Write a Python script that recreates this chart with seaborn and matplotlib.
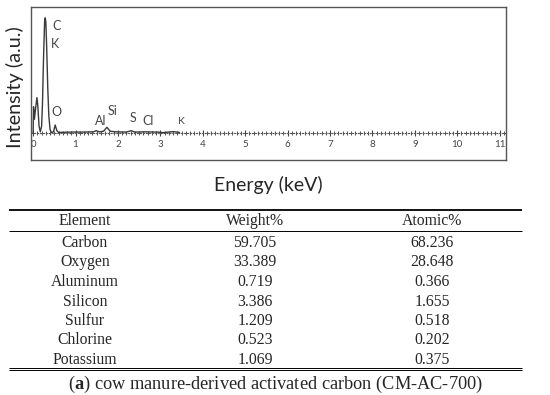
import matplotlib
matplotlib.use("Agg")
import matplotlib.pyplot as plt
import seaborn as sns
import numpy as np
import pandas as pd
from matplotlib.ticker import FixedLocator

# EDS spectrum trace
energy_kev = [0.00, 0.01, 0.03, 0.06, 0.09, 0.11, 0.14, 0.17, 0.20, 0.22, 0.245, 0.27, 0.285,
              0.30, 0.32, 0.345, 0.37, 0.40, 0.43, 0.48, 0.52, 0.56, 0.60, 0.90, 1.20, 1.42,
              1.49, 1.56, 1.66, 1.74, 1.82, 1.95, 2.20, 2.31, 2.40, 2.62, 2.95, 3.05,
              3.20, 3.31, 3.45]
intensity = [0, 23, 12, 22, 31, 24, 6, 1, 6, 25, 65, 97, 101,
             97, 75, 40, 15, 3, 0.5, 1, 7, 2, 0.5, 0.8, 0.8, 1,
             2, 1, 1.5, 5, 1.5, 1, 0.8, 2, 0.8, 1, 0.8, 0.3,
             0.8, 1.2, 0.5]

peak_labels = ["C", "K", "O", "Al", "Si", "S", "Cl", "K"]

# composition table
elements = ["Carbon", "Oxygen", "Aluminum", "Silicon", "Sulfur", "Chlorine", "Potassium"]
weight_pct = ["59.705", "33.389", "0.719", "3.386", "1.209", "0.523", "1.069"]
atomic_pct = ["68.236", "28.648", "0.366", "1.655", "0.518", "0.202", "0.375"]

sns.set_style("white")
plt.rcParams["font.family"] = ["Lato", "DejaVu Sans"]
plt.rcParams["mathtext.fontset"] = "custom"
plt.rcParams["mathtext.rm"] = "Liberation Serif"
plt.rcParams["mathtext.bf"] = "Liberation Serif:bold"

fig = plt.figure(figsize=(5.5, 3.95), dpi=100)
ax = fig.add_axes([31 / 550, 1 - 160 / 395, 475 / 550, 153 / 395])

df = pd.DataFrame({"Energy": energy_kev, "Intensity": intensity})
sns.lineplot(data=df, x="Energy", y="Intensity", ax=ax, color="#3a3a3a", lw=1.0, sort=False)

ymin, ymax = -23.7, 110.5
ax.set_xlim(-0.05, 11.15)
ax.set_ylim(ymin, ymax)
ax.set_xticks([])
ax.set_yticks([])
ax.set_xlabel("")
ax.set_ylabel("")
for s in ax.spines.values():
    s.set_color("#555555")
    s.set_linewidth(1.0)

fig.text(15 / 550, 1 - 87 / 395, "Intensity (a.u.)", fontsize=14.3, rotation=90,
         ha="center", va="center")

# energy axis sits at zero intensity, inside the box
sec = ax.secondary_xaxis((0 - ymin) / (ymax - ymin))
sec.xaxis.set_major_locator(FixedLocator(np.arange(0, 12)))
sec.xaxis.set_minor_locator(FixedLocator(np.round(np.arange(0, 11.11, 0.1), 1)))
sec.tick_params(which="major", direction="inout", length=4, width=0.8, labelsize=7,
                colors="#444444", pad=3)
sec.tick_params(which="minor", direction="inout", length=2.5, width=0.7, colors="#555555")
sec.spines["bottom"].set_color("#555555")
sec.spines["bottom"].set_linestyle(":")

lab_kw = dict(fontsize=9, color="#444444", ha="center", va="center")
ax.text(0.55, 94, peak_labels[0], **lab_kw)
ax.text(0.51, 78, peak_labels[1], **lab_kw)
ax.text(0.55, 18, peak_labels[2], **lab_kw)
ax.text(1.59, 10.5, peak_labels[3], **lab_kw)
ax.text(1.87, 19, peak_labels[4], **lab_kw)
ax.text(2.35, 13, peak_labels[5], **lab_kw)
ax.text(2.72, 10.5, peak_labels[6], **lab_kw)
ax.text(3.50, 10.5, peak_labels[7], fontsize=7.5, color="#444444", ha="center", va="center")

fig.text(268 / 550, 1 - 185 / 395, "Energy (keV)", fontsize=14, ha="center", va="center")

# table drawn in pixel coordinates
tab = fig.add_axes([0, 0, 1, 1], zorder=-1)
tab.set_xlim(0, 550)
tab.set_ylim(395, 0)
tab.axis("off")
serif = ["Liberation Serif", "DejaVu Serif"]
col_x = [85, 255, 432]
tab.hlines(210, 9, 522, color="black", lw=1.3)
tab.hlines(230.5, 9, 522, color="black", lw=0.7)
tab.hlines([367.5, 370.3], 9, 522, color="black", lw=0.7)
for x, h in zip(col_x, ["Element", "Weight%", "Atomic%"]):
    tab.text(x, 221, h, family=serif, fontsize=11.3, ha="center", va="center")
for i, (e, w, a) in enumerate(zip(elements, weight_pct, atomic_pct)):
    y = 243 + i * 19.5
    for x, t in zip(col_x, [e, w, a]):
        tab.text(x, y, t, family=serif, fontsize=11.3, ha="center", va="center")

tab.text(276, 384, r"($\mathbf{a}$) cow manure-derived activated carbon (CM-AC-700)",
         family=serif, fontsize=13.2, ha="center", va="center")

fig.savefig("out.png", dpi=100)
